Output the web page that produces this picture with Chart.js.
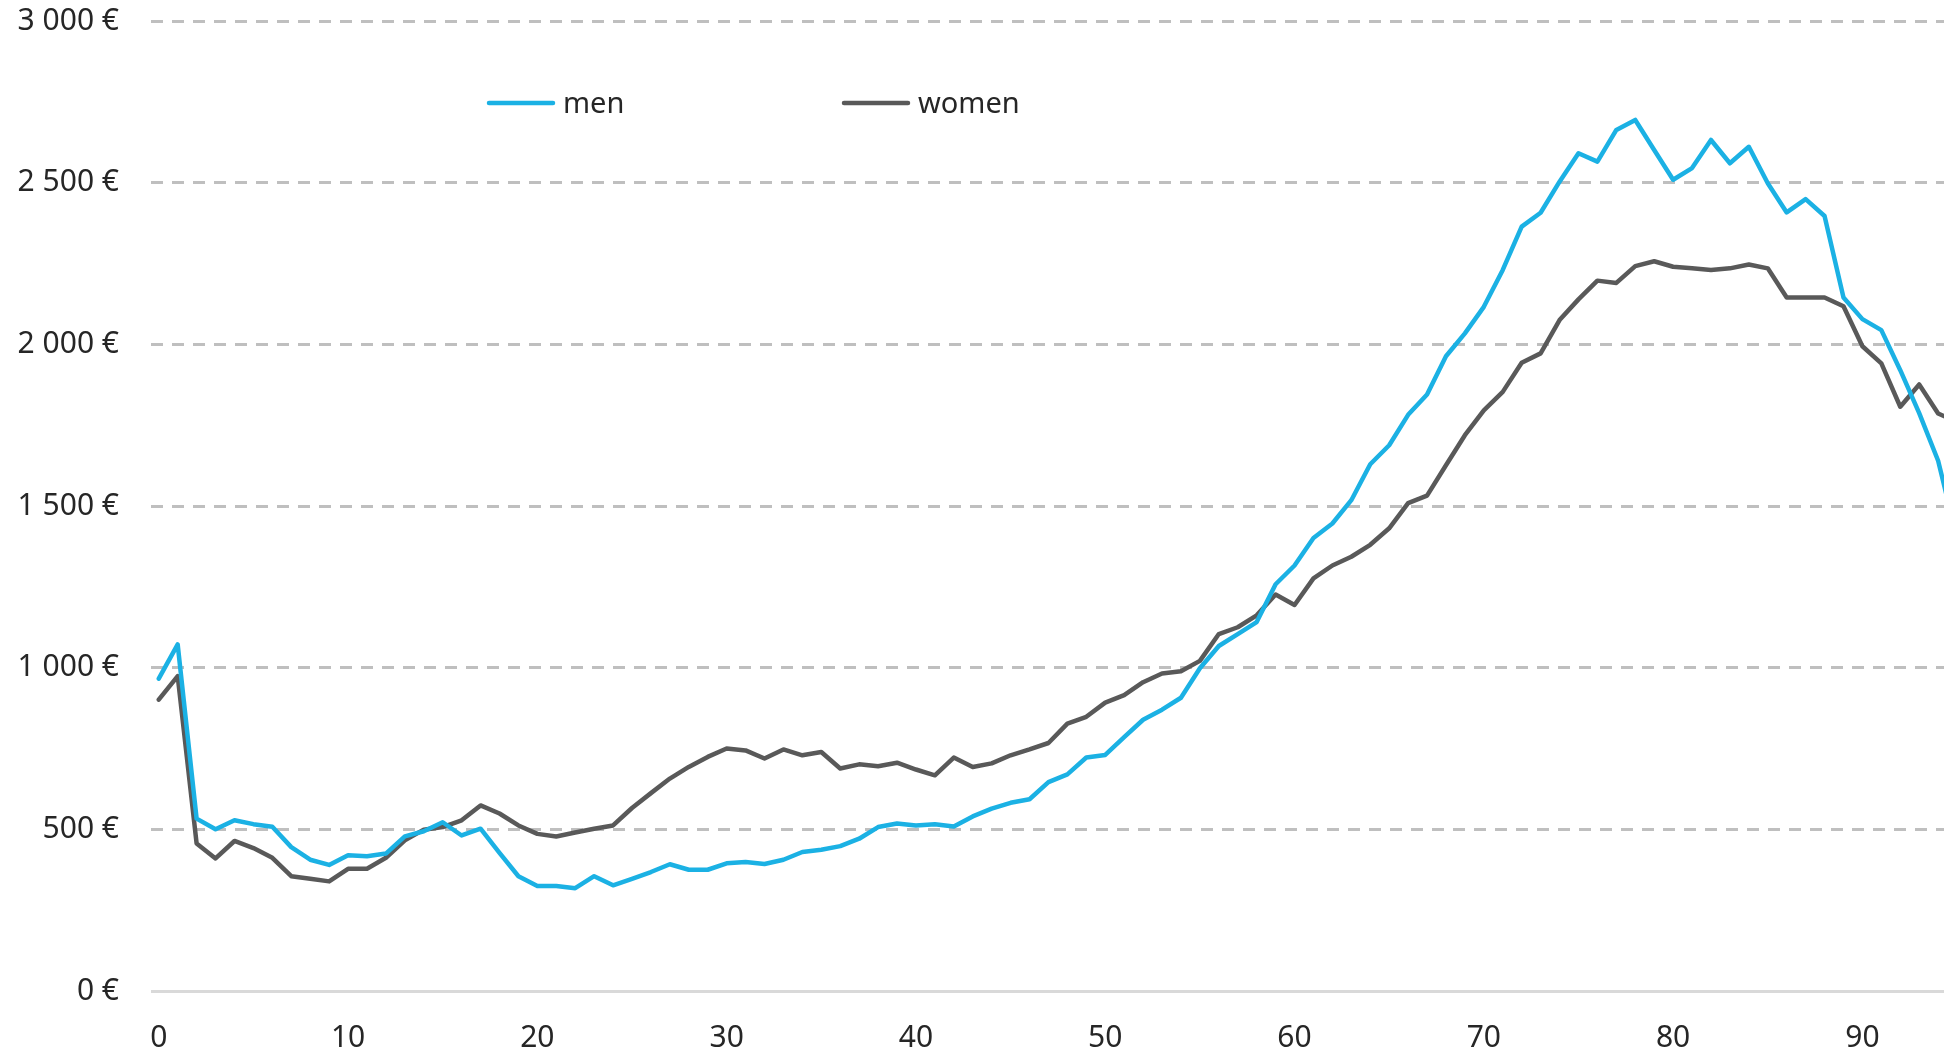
<!DOCTYPE html>
<html>
<head>
<meta charset="utf-8">
<script src="https://cdn.jsdelivr.net/npm/chart.js@4.4.1/dist/chart.umd.min.js"></script>
<style>
  html, body { margin: 0; padding: 0; background: #fff; }
  #wrap { width: 1944px; height: 1050px; position: relative; }
</style>
</head>
<body>
<div id="wrap"><canvas id="chart"></canvas></div>
<script>
'use strict';

// ages (x categories)
const ages = [
  0, 1, 2, 3, 4, 5, 6, 7, 8, 9,
  10, 11, 12, 13, 14, 15, 16, 17, 18, 19,
  20, 21, 22, 23, 24, 25, 26, 27, 28, 29,
  30, 31, 32, 33, 34, 35, 36, 37, 38, 39,
  40, 41, 42, 43, 44, 45, 46, 47, 48, 49,
  50, 51, 52, 53, 54, 55, 56, 57, 58, 59,
  60, 61, 62, 63, 64, 65, 66, 67, 68, 69,
  70, 71, 72, 73, 74, 75, 76, 77, 78, 79,
  80, 81, 82, 83, 84, 85, 86, 87, 88, 89,
  90, 91, 92, 93, 94, 95
];

const men = [
  966, 1072, 533, 500, 528, 516, 508, 445, 406, 390,
  420, 417, 425, 478, 494, 522, 481, 502, 427, 355,
  325, 325, 318, 355, 327, 347, 368, 392, 375, 375,
  395, 399, 393, 406, 430, 437, 448, 471, 507, 518,
  512, 516, 509, 540, 564, 582, 593, 646, 670, 722,
  730, 785, 839, 870, 907, 998, 1067, 1104, 1141, 1258,
  1316, 1401, 1446, 1518, 1629, 1688, 1782, 1845, 1963, 2034,
  2116, 2230, 2364, 2407, 2503, 2591, 2565, 2663, 2694, 2601,
  2509, 2545, 2632, 2560, 2611, 2498, 2408, 2449, 2397, 2145,
  2078, 2044, 1920, 1787, 1640, 1400
];

const women = [
  901, 974, 456, 410, 464, 442, 412, 355, 347, 339,
  378, 378, 412, 466, 499, 507, 528, 574, 549, 512,
  486, 478, 490, 502, 512, 566, 612, 657, 693, 724,
  750, 744, 719, 747, 729, 739, 688, 701, 695, 706,
  685, 667, 722, 693, 704, 729, 747, 767, 827, 848,
  892, 915, 955, 982, 989, 1021, 1104, 1125, 1162, 1226,
  1194, 1276, 1316, 1343, 1380, 1431, 1509, 1532, 1626, 1719,
  1796, 1853, 1943, 1972, 2075, 2139, 2197, 2190, 2242, 2257,
  2240, 2235, 2230, 2235, 2247, 2235, 2145, 2145, 2145, 2118,
  1994, 1941, 1807, 1876, 1786, 1760
];

const xTicks = [0, 10, 20, 30, 40, 50, 60, 70, 80, 90];
const yTicks = [0, 500, 1000, 1500, 2000, 2500, 3000];
const yTickLabels = ['0 €', '500 €', '1 000 €', '1 500 €', '2 000 €', '2 500 €', '3 000 €'];

const FONT = '"Noto Sans", "Open Sans", sans-serif';
const AXIS_SIZE = 30;
const LEGEND_SIZE = 29;
const TEXT = '#262626';
const BLUE = '#1BB1E4';
const GREY = '#595959';

// legend drawn inside the plot, like the original
const legendX = [489, 844];
const LEGEND_Y = 103;

const insideLegend = {
  id: 'insideLegend',
  afterDraw(chart) {
    const ctx = chart.ctx;
    ctx.save();
    ctx.font = LEGEND_SIZE + 'px ' + FONT;
    ctx.textBaseline = 'alphabetic';
    chart.data.datasets.forEach((ds, i) => {
      const x = legendX[i];
      ctx.strokeStyle = ds.borderColor;
      ctx.lineWidth = 4.5;
      ctx.lineCap = 'round';
      ctx.beginPath();
      ctx.moveTo(x, LEGEND_Y);
      ctx.lineTo(x + 64, LEGEND_Y);
      ctx.stroke();
      ctx.fillStyle = TEXT;
      ctx.fillText(ds.label, x + 74, LEGEND_Y + 10);
    });
    ctx.restore();
  }
};

const ctx = document.getElementById('chart').getContext('2d');
new Chart(ctx, {
  type: 'line',
  data: {
    datasets: [
      {
        label: 'men',
        data: men.map((v, i) => ({ x: ages[i], y: v })),
        borderColor: BLUE,
        borderWidth: 4.5,
        pointRadius: 0,
        tension: 0,
        borderJoinStyle: 'round',
        borderCapStyle: 'round'
      },
      {
        label: 'women',
        data: women.map((v, i) => ({ x: ages[i], y: v })),
        borderColor: GREY,
        borderWidth: 4.5,
        pointRadius: 0,
        tension: 0,
        borderJoinStyle: 'round',
        borderCapStyle: 'round'
      }
    ]
  },
  options: {
    responsive: true,
    maintainAspectRatio: false,
    animation: false,
    layout: { padding: { top: 21, right: 0, left: 0, bottom: 0 } },
    plugins: {
      legend: { display: false },
      tooltip: { enabled: false }
    },
    scales: {
      x: {
        type: 'linear',
        min: -0.41,
        max: 94.31,
        afterBuildTicks: (s) => { s.ticks = xTicks.map(v => ({ value: v })); },
        afterFit: (s) => { s.height = 59; s.paddingLeft = 0; s.paddingRight = 0; },
        grid: { display: false },
        border: { display: false },
        ticks: {
          color: TEXT,
          font: { family: FONT, size: AXIS_SIZE },
          padding: 21,
          maxRotation: 0,
          autoSkip: false
        }
      },
      y: {
        min: 0,
        max: 3000,
        afterBuildTicks: (s) => { s.ticks = yTicks.map(v => ({ value: v })); },
        afterFit: (s) => { s.width = 151; s.paddingTop = 0; s.paddingBottom = 0; },
        grid: {
          drawTicks: false,
          color: (c) => (c.tick && c.tick.value === 0 ? '#D9D9D9' : '#BFBFBF'),
          lineWidth: 3
        },
        border: {
          display: false,
          dash: (c) => (c.tick && c.tick.value === 0 ? [] : [12, 9])
        },
        ticks: {
          color: TEXT,
          font: { family: FONT, size: AXIS_SIZE },
          padding: 32,
          callback: (v) => yTickLabels[yTicks.indexOf(v)]
        }
      }
    }
  },
  plugins: [insideLegend]
});
</script>
</body>
</html>
